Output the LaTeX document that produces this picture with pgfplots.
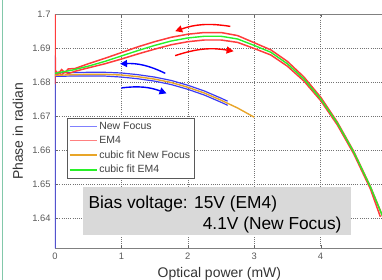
\documentclass[border=0pt]{standalone}
\usepackage{pgfplots}
\pgfplotsset{compat=1.18}
\usepackage{fontspec}
\setmainfont{Liberation Sans}
\usetikzlibrary{arrows.meta}
\definecolor{nfblue}{RGB}{60,60,245}
\definecolor{nfleg}{RGB}{128,128,255}
\definecolor{emred}{RGB}{255,60,60}
\definecolor{emleg}{RGB}{255,128,128}
\definecolor{fitorange}{RGB}{232,165,40}
\definecolor{fitgreen}{RGB}{40,240,40}
\definecolor{teal}{RGB}{130,200,170}
\definecolor{boxgray}{RGB}{217,217,217}
\begin{document}
\begin{tikzpicture}
\begin{axis}[
  at={(0,0)}, anchor=south west,
  scale only axis,
  width=328.68bp, height=233.8bp,
  xmin=0, xmax=4.95,
  ymin=1.63124, ymax=1.7,
  xtick={0,1,2,3,4},
  ytick={1.64,1.65,1.66,1.67,1.68,1.69,1.7},
  yticklabels={1.64,1.65,1.66,1.67,1.68,1.69,1.7},
  xticklabels={0,1,2,3,4},
  grid=major,
  major grid style={black!55, line width=0.6pt, dash pattern=on 0.8pt off 1.4pt},
  axis line style={black!50, line width=0.8pt},
  major tick length=3bp,
  tick style={black!60},
  tick label style={font=\fontsize{9.4}{10}\selectfont, text=black!65},
  /pgf/number format/assume math mode=true,
  xticklabel style={yshift=-1bp},
  yticklabel style={xshift=-1bp},
  xlabel={Optical power (mW)},
  ylabel={Phase in radian},
  label style={font=\fontsize{14}{16}\selectfont, text=black!80},
  xlabel style={at={(axis description cs:0.5,0)}, anchor=center, yshift=-26bp},
  ylabel style={at={(axis description cs:0,0.5)}, anchor=center, yshift=37bp},
  legend style={at={(axis description cs:0.0356,0.556)}, anchor=north west,
    font=\fontsize{10.5}{11}\selectfont, text=black!75, draw=black!65, line width=0.6pt,
    row sep=1.6pt, inner xsep=2pt, inner ysep=1.5pt},
  legend cell align=left,
  legend image code/.code={\draw[#1] (0bp,0bp) -- (27bp,0bp);},
]
% New Focus data (blue)
\addplot[nfblue, line width=1.2pt, forget plot] coordinates {
(0,1.63124) (0,1.688) (0.005,1.6822) (0.1,1.6829) (0.25,1.6829) (0.5,1.6830) (0.75,1.6830) (1.0,1.6828) (1.25,1.6823) (1.5,1.6816) (1.75,1.6806) (2.0,1.6792) (2.25,1.6775) (2.5,1.6754) (2.6,1.6745)};
\addplot[nfblue, line width=1.2pt, forget plot] coordinates {
(0.005,1.6818) (0.25,1.6819) (0.5,1.6819) (0.75,1.6819) (1.0,1.6816) (1.25,1.6811) (1.5,1.6804) (1.75,1.6794) (2.0,1.6780) (2.25,1.6763) (2.5,1.6742) (2.6,1.6733)};
% EM4 data (red)
\addplot[emred, line width=1.5pt, forget plot] coordinates {
(0,1.6795) (0,1.7) (0.005,1.6835) (0.05,1.6826) (0.1,1.6838) (0.15,1.6829) (0.2,1.6840) (0.3,1.6841) (0.5,1.6855) (0.75,1.6871) (1.0,1.6888) (1.25,1.6905) (1.5,1.6920) (1.75,1.6933) (2.0,1.6942) (2.25,1.6947) (2.5,1.6947) (2.75,1.6938) (3.0,1.6917) (3.25,1.6896) (3.5,1.6862) (3.75,1.6816) (4.0,1.6757) (4.25,1.6684) (4.5,1.6597) (4.75,1.6494) (4.95,1.6399)};
\addplot[emred, line width=1.5pt, forget plot] coordinates {
(0.005,1.6820) (0.05,1.6830) (0.1,1.6822) (0.15,1.6832) (0.2,1.6826) (0.3,1.6833) (0.5,1.6843) (0.75,1.6855) (1.0,1.6869) (1.25,1.6884) (1.5,1.6898) (1.75,1.6911) (2.0,1.6920) (2.25,1.6925) (2.5,1.6925) (2.75,1.6918) (3.0,1.6900) (3.25,1.6881) (3.5,1.6848) (3.75,1.6804) (4.0,1.6747) (4.25,1.6676) (4.5,1.6590) (4.75,1.6487) (4.9,1.6405)};
% cubic fit New Focus (orange)
\addplot[fitorange, line width=1.4pt, forget plot] coordinates {
(0,1.6821) (0.25,1.6823) (0.5,1.6824) (0.75,1.6824) (1.0,1.6822) (1.25,1.6817) (1.5,1.6810) (1.75,1.6800) (2.0,1.6786) (2.25,1.6769) (2.5,1.6748) (2.75,1.6725) (3.0,1.6698)};
% cubic fit EM4 (green)
\addplot[fitgreen, line width=1.4pt, forget plot] coordinates {
(0,1.6827) (0.25,1.6836) (0.5,1.6848) (0.75,1.6862) (1.0,1.6878) (1.25,1.6894) (1.5,1.6909) (1.75,1.6922) (2.0,1.6931) (2.25,1.6936) (2.5,1.6936) (2.75,1.6928) (3.0,1.6909) (3.25,1.6889) (3.5,1.6855) (3.75,1.6810) (4.0,1.6752) (4.25,1.6681) (4.5,1.6595) (4.75,1.6493) (4.95,1.6399)};
\addlegendimage{color=nfleg, line width=1.4pt}
\addlegendentry{New Focus}
\addlegendimage{color=emleg, line width=1.4pt}
\addlegendentry{EM4}
\addlegendimage{color=fitorange, line width=1.4pt}
\addlegendentry{cubic fit New Focus}
\addlegendimage{color=fitgreen, line width=1.4pt}
\addlegendentry{cubic fit EM4}
% arrows
\draw[red, line width=1.4pt, -{Triangle[length=7bp,width=7bp]}] (axis cs:2.64,1.6965) to[bend right=14] (axis cs:1.81,1.6951);
\draw[red, line width=1.4pt, -{Triangle[length=7bp,width=7bp]}] (axis cs:1.81,1.6879) to[bend left=14] (axis cs:2.69,1.6892);
\draw[blue, line width=1.4pt, -{Triangle[length=7bp,width=7bp]}] (axis cs:1.66,1.6827) to[bend right=14] (axis cs:0.98,1.6855);
\draw[blue, line width=1.4pt, -{Triangle[length=7bp,width=7bp]}] (axis cs:1.0,1.6784) to[bend left=14] (axis cs:1.68,1.6768);
% text box
\fill[boxgray] (axis cs:0.426,1.64918) rectangle (axis cs:4.453,1.63515);
\node[anchor=base west, inner sep=0pt, font=\fontsize{17.4}{20}\selectfont] at (axis cs:0.502,1.6430) {Bias voltage: 15V (EM4)};
\node[anchor=base east, inner sep=0pt, font=\fontsize{17.4}{20}\selectfont] at (axis cs:4.318,1.63682) {4.1V (New Focus)};
\end{axis}
\draw[teal, line width=1bp] (-52.3bp,-31.7bp) -- (-52.3bp,248.3bp);
\pgfresetboundingbox
\useasboundingbox (-55bp,-31.7bp) rectangle (327bp,248.3bp);
\end{tikzpicture}
\end{document}
